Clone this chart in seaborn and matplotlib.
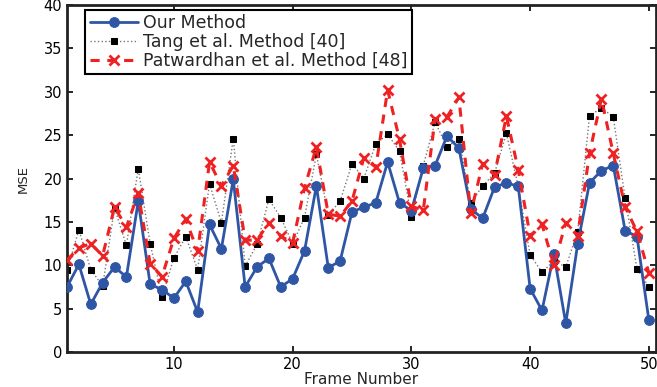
import numpy as np
import matplotlib
matplotlib.use('Agg')
import matplotlib.pyplot as plt
import seaborn as sns

# MSE por frame para os três métodos
frames = list(range(1, 51))
our_method = [7.5, 10.1, 5.5, 8.0, 9.8, 8.65, 17.4, 7.8, 7.2, 6.2,
              8.15, 4.6, 14.7, 11.9, 19.9, 7.5, 9.8, 10.8, 7.5, 8.45,
              11.65, 19.15, 9.7, 10.5, 16.15, 16.7, 17.2, 21.9, 17.2, 16.3,
              21.2, 21.5, 24.9, 23.5, 16.5, 15.4, 19.0, 19.5, 19.1, 7.3,
              4.8, 11.3, 3.3, 12.4, 19.5, 20.9, 21.5, 14.0, 13.3, 3.65]
tang = [9.4, 14.1, 9.5, 7.6, 16.6, 12.3, 21.15, 12.5, 6.3, 10.85,
        13.3, 9.5, 19.4, 14.9, 24.6, 9.9, 12.4, 17.6, 15.5, 12.5,
        15.5, 22.8, 15.8, 17.4, 21.7, 20.0, 24.0, 25.1, 23.15, 15.6,
        21.5, 26.5, 23.65, 24.6, 17.2, 19.15, 20.6, 25.2, 19.1, 11.2,
        9.2, 10.5, 9.8, 13.85, 27.2, 28.15, 27.1, 17.7, 9.6, 7.5]
patwardhan = [10.6, 12.0, 12.5, 11.1, 16.7, 14.4, 18.3, 10.2, 8.7, 13.1,
              15.3, 11.6, 21.9, 19.15, 21.5, 12.9, 12.9, 14.9, 13.35, 12.6,
              18.9, 23.65, 15.9, 15.65, 17.4, 22.4, 21.3, 30.2, 24.5, 16.8,
              16.35, 26.9, 27.1, 29.35, 16.0, 21.7, 20.4, 27.2, 21.0, 13.4,
              14.7, 10.0, 14.9, 13.4, 22.9, 29.2, 22.9, 16.7, 13.9, 9.1]

labels = ['Our Method', 'Tang et al. Method [40]', 'Patwardhan et al. Method [48]']

sns.set_style('ticks')
plt.rcParams['font.family'] = ['DejaVu Sans']

fig = plt.figure(figsize=(6.57, 3.87), dpi=100)
ax = fig.add_axes([0.102, 0.0904, 0.8965, 0.8966])

sns.lineplot(x=frames, y=our_method, ax=ax, color='#2f55a5', lw=2,
             marker='o', markersize=7, markeredgecolor='#2f55a5',
             label=labels[0], zorder=3)
sns.lineplot(x=frames, y=tang, ax=ax, color='#777777', lw=1,
             linestyle=':', marker='s', markersize=4.5,
             markerfacecolor='black', markeredgecolor='black',
             label=labels[1], zorder=2)
sns.lineplot(x=frames, y=patwardhan, ax=ax, color='#ee2222', lw=2.2,
             linestyle=(0, (3, 2.5)), marker='x', markersize=7,
             markeredgewidth=2, markeredgecolor='#ee2222',
             label=labels[2], zorder=4)

ax.set_xlim(1, 50.6)
ax.set_ylim(0, 40)
ax.set_xticks([10, 20, 30, 40, 50])
ax.set_yticks(np.arange(0, 41, 5))
ax.tick_params(direction='in', length=4, width=1.2, labelsize=10.5,
               top=True, right=True, colors='black')
for sp in ax.spines.values():
    sp.set_visible(True)
    sp.set_linewidth(2)
    sp.set_color('#222222')

ax.set_xlabel('Frame Number', fontsize=11, labelpad=0)
ax.set_ylabel('MSE', fontsize=9.5, labelpad=10)

leg = ax.legend(loc='upper left', bbox_to_anchor=(0.031, 0.986),
                borderaxespad=0, fancybox=False, fontsize=12.5,
                handlelength=2.8, handletextpad=0.3, labelspacing=0.05,
                borderpad=0.25)
leg.get_frame().set_edgecolor('black')
leg.get_frame().set_linewidth(1.5)
leg.get_frame().set_alpha(1)

plt.savefig('out.png', dpi=100)
plt.close()
